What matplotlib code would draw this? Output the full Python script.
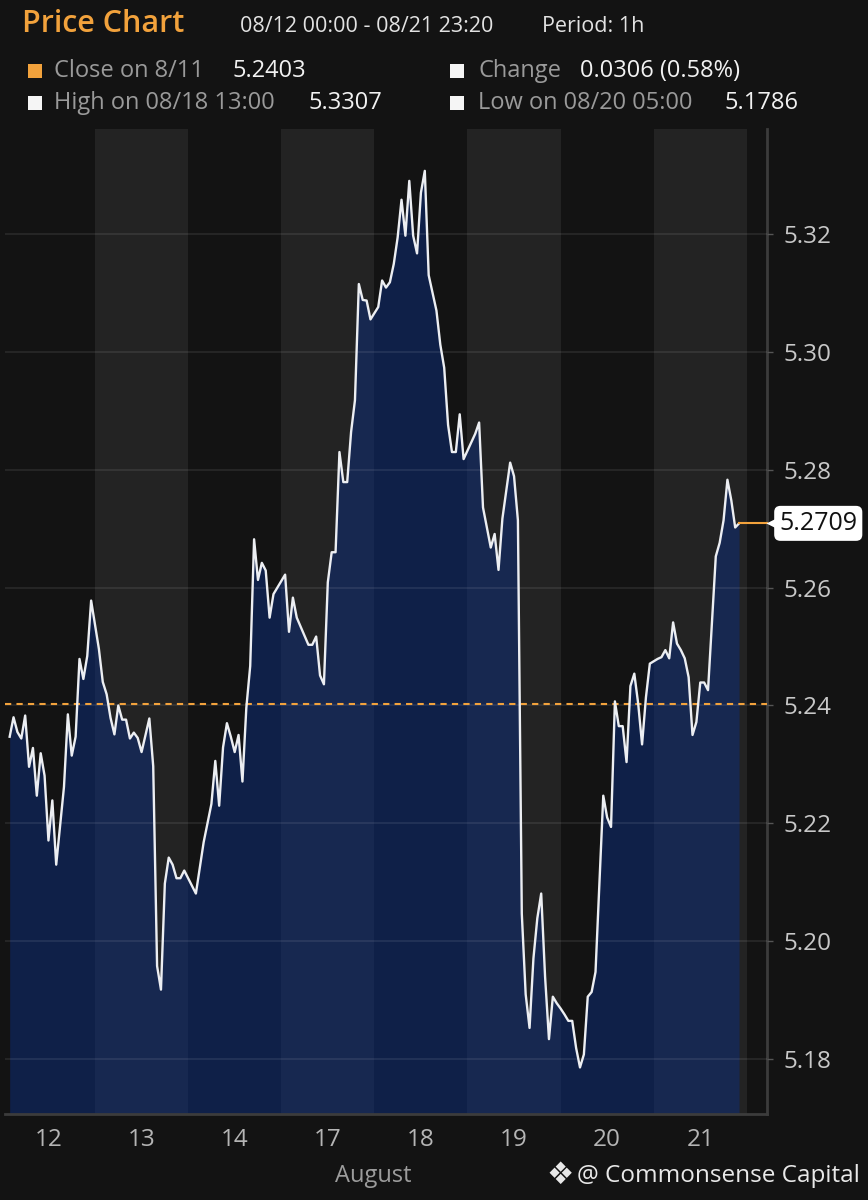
import matplotlib
matplotlib.use("Agg")
import matplotlib.pyplot as plt
from matplotlib.patches import Rectangle
from matplotlib.transforms import blended_transform_factory

plt.rcParams['font.family'] = ['Open Sans', 'DejaVu Sans']

# trading days shown on the x axis (24 hourly slots each)
day_labels = ['12', '13', '14', '17', '18', '19', '20', '21']

# hour index since 08/12 00:00 and hourly price
hours = [2, 3, 4, 5, 6, 7, 8, 9, 10, 11, 12, 13, 14, 16, 17, 18, 19, 20, 21, 22, 23,
         25, 26, 27, 28, 29, 30, 31, 32, 33, 34, 35, 36, 38, 39, 40, 41, 42, 43, 44, 45, 46, 47, 48,
         50, 52, 54, 55, 56, 57, 58, 59, 60, 61, 62, 63, 64, 65, 66, 67, 68, 69, 70,
         73, 74, 75, 76, 79, 80, 81, 82, 83, 84, 85, 86, 87, 88, 89, 90, 91, 92, 93, 94, 95,
         97, 98, 99, 100, 101, 102, 103, 104, 105, 106, 107, 108, 109, 110, 112, 113, 114, 115,
         116, 117, 118, 119, 122, 123, 124, 125, 126, 127, 128, 129, 131, 132, 133, 134, 135,
         136, 137, 138, 139, 140, 141, 142, 143, 144, 145, 146, 147, 148, 149, 150, 151, 152, 153,
         155, 156, 157, 158, 159, 160, 161, 162, 163, 164, 165, 166, 167, 169, 170, 171, 172,
         173, 174, 175, 176, 177, 178, 179, 180, 181, 182, 184, 185, 186, 187, 188, 189, 190]
prices = [5.2347, 5.2380, 5.2355, 5.2344, 5.2383, 5.2296, 5.2328, 5.2247, 5.2319, 5.2281,
          5.2171, 5.2239, 5.2130, 5.2262, 5.2385, 5.2315, 5.2347, 5.2479, 5.2445, 5.2484, 5.2578,
          5.2496, 5.2440, 5.2419, 5.2379, 5.2351, 5.2400, 5.2376, 5.2376, 5.2344, 5.2354, 5.2345,
          5.2321, 5.2378, 5.2297, 5.1958, 5.1918, 5.2098, 5.2142, 5.2130, 5.2107, 5.2107, 5.2120, 5.2107,
          5.2081, 5.2168, 5.2233, 5.2306, 5.2230, 5.2329, 5.2370, 5.2347, 5.2321, 5.2350, 5.2271,
          5.2396, 5.2467, 5.2682, 5.2613, 5.2642, 5.2629, 5.2549, 5.2589,
          5.2622, 5.2525, 5.2583, 5.2549, 5.2503, 5.2503, 5.2517, 5.2451, 5.2436, 5.2609, 5.2660,
          5.2660, 5.2830, 5.2779, 5.2779, 5.2864, 5.2918, 5.3115, 5.3088, 5.3087, 5.3055,
          5.3076, 5.3121, 5.3109, 5.3118, 5.3149, 5.3194, 5.3258, 5.3197, 5.3290, 5.3197, 5.3167,
          5.3270, 5.3307, 5.3130, 5.3070, 5.3012, 5.2973, 5.2876,
          5.2830, 5.2830, 5.2894, 5.2818, 5.2861, 5.2880, 5.2736, 5.2702, 5.2668, 5.2691, 5.2630,
          5.2717, 5.2812, 5.2789, 5.2714, 5.2047, 5.1910,
          5.1853, 5.1971, 5.2039, 5.2081, 5.1940, 5.1834, 5.1906, 5.1895, 5.1886, 5.1876, 5.1865,
          5.1865, 5.1819, 5.1786, 5.1808, 5.1906, 5.1914, 5.1948,
          5.2247, 5.2210, 5.2194, 5.2407, 5.2365, 5.2365, 5.2304, 5.2433, 5.2454, 5.2403, 5.2334,
          5.2414, 5.2471, 5.2479, 5.2482, 5.2494, 5.2480,
          5.2541, 5.2505, 5.2494, 5.2480, 5.2448, 5.2350, 5.2372, 5.2439, 5.2439, 5.2426,
          5.2653, 5.2676, 5.2714, 5.2783, 5.2748, 5.2702, 5.2709]

y_ticks = [5.18, 5.20, 5.22, 5.24, 5.26, 5.28, 5.30, 5.32]

prev_close = 5.2403
high_price = 5.3307
low_price = 5.1786
change = 0.0306
change_pct = 0.58

BG = '#131313'
BAND = '#232323'
ORANGE = '#f2a23c'
W, H = 868, 1200


def px(x, y):
    # figure pixel position (from top-left) -> figure fraction
    return x / W, 1 - y / H


fig = plt.figure(figsize=(W / 100, H / 100), dpi=100, facecolor=BG)
ax = fig.add_axes([5 / W, 1 - 1114 / H, 762 / W, 985 / H])
ax.set_facecolor(BG)

# alternating day bands
for k in range(len(day_labels)):
    ax.axvspan(24 * k, 24 * k + 24, color=BAND if k % 2 else BG, lw=0, zorder=0)

ymin, ymax = 5.1707, 5.3378
ax.fill_between(hours, prices, ymin, color='#0d2d7d', alpha=0.5, lw=0, zorder=1)
ax.plot(hours, prices, color='#eceef2', lw=1.7, zorder=3)
ax.axhline(prev_close, color=ORANGE, lw=1.5, ls=(0, (3, 2.5)), zorder=2.8)

ax.set_xlim(0.8, 197.2)
ax.set_ylim(ymin, ymax)

# last price connector + tag
last_h, last_p = hours[-1], prices[-1]
ax.plot([last_h, 197.2], [last_p, last_p], color=ORANGE, lw=1.5, zorder=3, clip_on=False)
tr = blended_transform_factory(ax.transAxes, ax.transData)
ax.plot([1.007], [last_p], marker='<', ms=9, color='white', mec='none', transform=tr,
        clip_on=False, zorder=5)
ax.text(1.016, last_p, f'{last_p:.4f}', transform=tr, ha='left', va='center',
        fontsize=18, color='#111111', zorder=6,
        bbox=dict(boxstyle='round,pad=0.2,rounding_size=0.25', fc='white', ec='none'))

ax.set_yticks(y_ticks)
ax.set_yticklabels([f'{t:.2f}' for t in y_ticks])
ax.yaxis.tick_right()
ax.set_xticks([24 * k + 12 for k in range(len(day_labels))])
ax.set_xticklabels(day_labels)
ax.tick_params(axis='y', length=4, width=1, color='#555555', pad=8,
               labelsize=17.5, labelcolor='#c8c8c8')
ax.tick_params(axis='x', length=0, pad=10, labelsize=17.5, labelcolor='#b5b5b5')
ax.yaxis.grid(True, color='white', alpha=0.08, lw=1.5)
ax.set_axisbelow(False)
for side in ['left', 'top']:
    ax.spines[side].set_visible(False)
for side in ['right', 'bottom']:
    ax.spines[side].set_color('#3c3c3c')
    ax.spines[side].set_linewidth(2)

# header
fig.text(*px(22, 24), 'Price Chart', color=ORANGE, fontsize=22, fontweight='semibold', va='center')
fig.text(*px(240, 26), '08/12 00:00 - 08/21 23:20', color='#e2e2e2', fontsize=15.5, va='center')
fig.text(*px(542, 26), 'Period: 1h', color='#e2e2e2', fontsize=15.5, va='center')

legend_rows = [
    (30, 71, ORANGE, 'Close on 8/11', 54, f'{prev_close:.4f}', 232),
    (452, 71, '#f5f5f5', 'Change', 478, f'{change:.4f} ({change_pct:.2f}%)', 580),
    (30, 103, '#f5f5f5', 'High on 08/18 13:00', 54, f'{high_price:.4f}', 308),
    (452, 103, '#f5f5f5', 'Low on 08/20 05:00', 478, f'{low_price:.4f}', 724),
]
for sx, sy, scol, label, lx, value, vx in legend_rows:
    x0, y0 = px(sx - 2, sy + 7)
    fig.patches.append(Rectangle((x0, y0), 14 / W, 14 / H, transform=fig.transFigure,
                                 figure=fig, color=scol, lw=0))
    fig.text(*px(lx, sy), label, color='#9a9a9a', fontsize=17, va='center')
    fig.text(*px(vx, sy), value, color='#f2f2f2', fontsize=17, va='center')

# footer
fig.text(*px(373, 1176), 'August', color='#9c9c9c', fontsize=17, ha='center', va='center')
fig.text(*px(560, 1175), '\u2756', color='#e8e8e8', fontsize=22, ha='center', va='center',
         family=['DejaVu Sans'])
fig.text(*px(860, 1176), '@ Commonsense Capital', color='#e8e8e8', fontsize=17.5,
         ha='right', va='center')

fig.savefig('out.png', dpi=100, facecolor=BG)
